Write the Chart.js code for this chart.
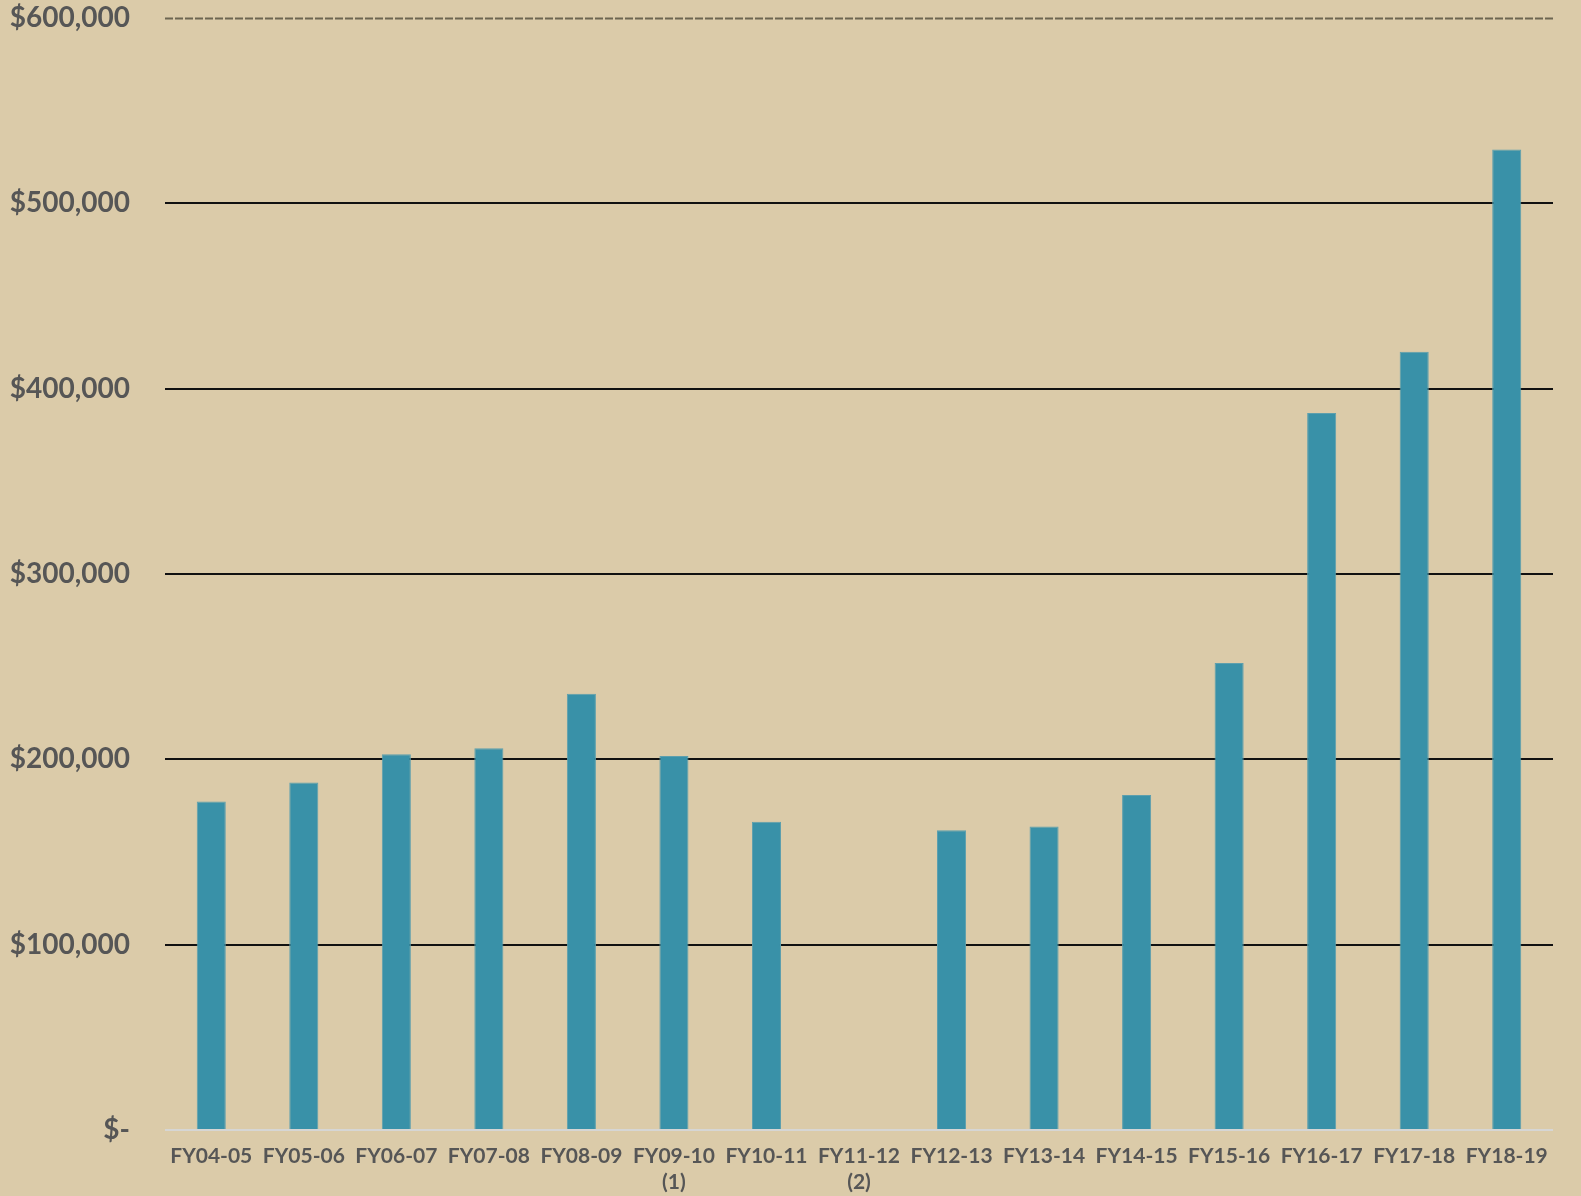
<!DOCTYPE html>
<html lang="en">
<head>
  <meta charset="UTF-8">
  <title>Fiscal year totals</title>
  <style>
    body {
      margin: 0;
      background: #dbcba9;
    }
    #wrap {
      width: 1581px;
      height: 1196px;
    }
  </style>
</head>
<body>
  <div id="wrap"><canvas id="bar-chart"></canvas></div>
  <script src="https://cdn.jsdelivr.net/npm/chart.js@4.4.9/dist/chart.umd.min.js"></script>
  <script>
    const categories = [
      'FY04-05', 'FY05-06', 'FY06-07', 'FY07-08', 'FY08-09',
      ['FY09-10', '(1)'], 'FY10-11', ['FY11-12', '(2)'], 'FY12-13', 'FY13-14',
      'FY14-15', 'FY15-16', 'FY16-17', 'FY17-18', 'FY18-19'
    ]
    const values = [
      177300, 187500, 202700, 206000, 235400,
      201800, 166300, null, 161800, 163800,
      180800, 252000, 386900, 419900, 529000
    ]
    const yMin = 0
    const yMax = 600000
    const yStep = 100000

    // dashed line on the top tick, everything else uses the normal grid
    const topLine = {
      id: 'topLine',
      beforeDatasetsDraw(chart) {
        const { ctx, chartArea } = chart
        const y = Math.round(chart.scales.y.getPixelForValue(yMax)) + 0.5
        ctx.save()
        ctx.strokeStyle = '#6d6652'
        ctx.lineWidth = 2
        ctx.setLineDash([8, 2])
        ctx.beginPath()
        ctx.moveTo(chartArea.left, y)
        ctx.lineTo(chartArea.right, y)
        ctx.stroke()
        ctx.restore()
      }
    }

    new Chart(document.getElementById('bar-chart'), {
      type: 'bar',
      data: {
        labels: categories,
        datasets: [{
          data: values,
          backgroundColor: '#3991a8',
          borderColor: '#5c9fae',
          borderWidth: 1,
          barPercentage: 0.314,
          categoryPercentage: 1
        }]
      },
      plugins: [topLine],
      options: {
        responsive: true,
        maintainAspectRatio: false,
        animation: false,
        layout: {
          padding: { top: 18, right: 28, bottom: 0, left: 0 }
        },
        plugins: {
          legend: { display: false },
          tooltip: { enabled: false }
        },
        scales: {
          x: {
            afterFit(scale) { scale.height = 66 },
            grid: { display: false },
            border: { display: false },
            ticks: {
              autoSkip: false,
              maxRotation: 0,
              padding: 5,
              color: '#565656',
              font: { family: 'Lato', size: 21, weight: 'bold', lineHeight: 1.25 }
            }
          },
          y: {
            min: yMin,
            max: yMax,
            afterFit(scale) {
              scale.width = 165
              scale.paddingTop = 0
              scale.paddingBottom = 0
            },
            border: { display: false },
            grid: {
              drawTicks: false,
              lineWidth: 2,
              color: ctx => {
                if (ctx.index === 0) return '#d6d6d4'
                if (ctx.tick && ctx.tick.value === yMax) return 'rgba(0,0,0,0)'
                return '#111111'
              }
            },
            ticks: {
              stepSize: yStep,
              padding: 35,
              color: '#565656',
              font: { family: 'Lato', size: 28, weight: 'bold' },
              callback: v => v === 0 ? '$-' : '$' + v.toLocaleString('en-US')
            }
          }
        }
      }
    })
  </script>
</body>
</html>
